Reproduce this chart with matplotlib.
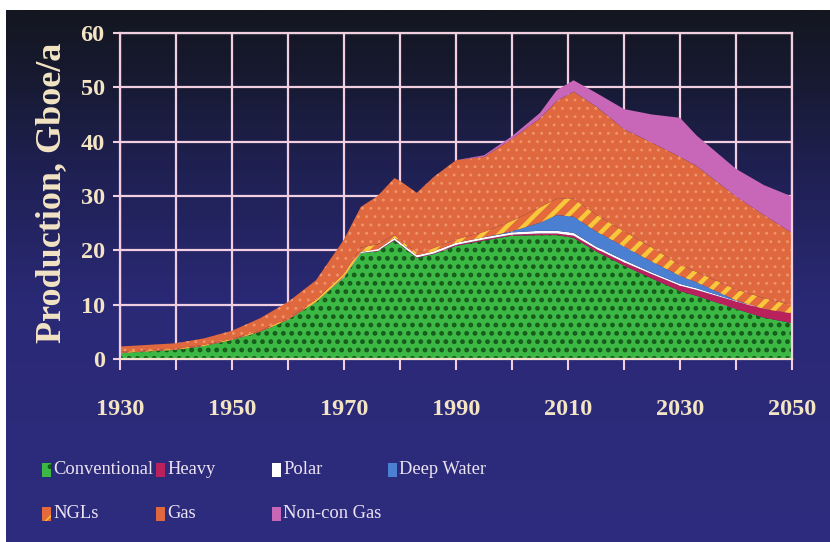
import numpy as np
import matplotlib.pyplot as plt
from matplotlib.colors import LinearSegmentedColormap
from matplotlib.patches import Rectangle

# Values (Gboe/a)
years = [1930, 1935, 1940, 1945, 1950, 1955, 1960, 1965, 1970, 1973, 1976, 1979, 1980, 1983,
         1986, 1990, 1995, 2000, 2005, 2008, 2011, 2015, 2020, 2025, 2030, 2033, 2040, 2045, 2050]
conventional = [1.1, 1.4, 1.7, 2.4, 3.5, 5.0, 7.2, 10.5, 15.0, 19.5, 19.8, 21.8, 21.0, 18.6,
                19.3, 20.8, 21.8, 22.7, 22.8, 22.8, 22.3, 19.8, 17.2, 14.8, 12.5, 11.6, 9.2, 7.6, 6.6]
heavy = [0, 0, 0, 0, 0, 0, 0, 0, 0, 0, 0.1, 0.1, 0.1, 0.1,
         0.1, 0.2, 0.2, 0.2, 0.3, 0.3, 0.4, 0.5, 0.6, 0.8, 1.0, 1.1, 1.4, 1.6, 1.8]
polar = [0, 0, 0, 0, 0, 0, 0, 0, 0.1, 0.2, 0.3, 0.4, 0.4, 0.4,
         0.4, 0.4, 0.4, 0.4, 0.5, 0.5, 0.5, 0.4, 0.4, 0.3, 0.3, 0.3, 0.1, 0, 0]
deep_water = [0, 0, 0, 0, 0, 0, 0, 0, 0, 0, 0, 0, 0, 0,
              0, 0, 0, 0.2, 1.5, 2.9, 3.0, 2.8, 2.5, 2.0, 1.5, 1.1, 0.1, 0, 0]
ngls = [0.2, 0.2, 0.2, 0.2, 0.2, 0.2, 0.3, 0.4, 0.6, 0.8, 0.9, 0.5, 0.5, 0.5,
        0.6, 0.6, 1.0, 1.9, 2.8, 3.0, 3.3, 3.1, 2.8, 2.6, 2.0, 1.9, 2.0, 2.0, 1.5]
gas = [1.0, 1.0, 1.0, 1.2, 1.5, 2.3, 3.0, 3.6, 6.3, 7.5, 8.9, 10.5, 10.8, 11.0,
       13.1, 14.6, 13.8, 15.1, 16.4, 18.0, 19.7, 19.9, 18.8, 19.3, 19.9, 19.5, 17.1, 15.3, 13.3]
non_con_gas = [0, 0, 0, 0, 0, 0, 0, 0, 0, 0, 0, 0, 0, 0,
               0, 0, 0.3, 0.5, 1.0, 2.0, 2.1, 2.5, 3.7, 5.2, 7.2, 5.6, 5.1, 5.5, 6.7]

labels = ["Conventional", "Heavy", "Polar", "Deep Water", "NGLs", "Gas", "Non-con Gas"]
series = [conventional, heavy, polar, deep_water, ngls, gas, non_con_gas]
face = ["#3cb944", "#b8215c", "#ffffff", "#4a7fd2", "#e46a3c", "#e0683e", "#c866b8"]
hatch = ["..", None, None, None, "//", "..", None]
hatch_col = ["#165a1c", None, None, None, "#f8c83a", "#f0946a", None]
hatch_lw = [2.2, 1, 1, 1, 3.2, 0.9, 1]
legend_hatch = [".", None, None, None, "/", None, None]

cream = "#f3e4c4"
pink = "#f2cfe0"
serif = "Liberation Serif"

fig = plt.figure(figsize=(8.3, 5.42), dpi=100, facecolor="white")

# gradient background
bg = fig.add_axes([6 / 830, 0, 1 - 6 / 830, 1 - 10 / 542])
bg.axis("off")
cmap = LinearSegmentedColormap.from_list(
    "bg", [(0, "#2e2c7e"), (0.45, "#2a2976"), (0.7, "#1f2052"), (0.88, "#171a30"), (1, "#141620")])
bg.imshow(np.linspace(0, 1, 256).reshape(-1, 1), aspect="auto", cmap=cmap,
          origin="lower", extent=[0, 1, 0, 1])

ax = fig.add_axes([120 / 830, 1 - 359 / 542, 672 / 830, 326 / 542])
ax.set_facecolor("none")

polys = ax.stackplot(years, *series, colors=face, linewidth=0)
for p, h, hc, hl in zip(polys, hatch, hatch_col, hatch_lw):
    if h:
        p.set_hatch(h)
        p.set_edgecolor(hc)
        p.set_linewidth(0)
        if hasattr(p, "set_hatch_linewidth"):
            p.set_hatch_linewidth(hl)

ax.set_xlim(1930, 2050)
ax.set_ylim(0, 60)
ax.set_axisbelow(True)
ax.grid(True, color=pink, linewidth=1.6)
for s in ax.spines.values():
    s.set_color(pink)
    s.set_linewidth(1.6)
ax.spines["bottom"].set_color("#f4e2cc")

xt = list(range(1930, 2051, 10))
ax.set_xticks(xt)
ax.set_xticklabels([str(y) if (y - 1930) % 20 == 0 else "" for y in xt])
ax.set_yticks(range(0, 61, 10))
ax.tick_params(axis="x", length=8, width=1.5, color=pink, pad=21, labelsize=17.5, labelcolor=cream)
ax.tick_params(axis="y", length=5, width=1.5, color=pink, pad=6, labelsize=17.5, labelcolor=cream)
for t in ax.get_xticklabels() + ax.get_yticklabels():
    t.set_fontfamily(serif)
    t.set_fontweight("bold")

fig.text(52 / 830, 1 - 193 / 542, "Production, Gboe/a", rotation=90, ha="center", va="center",
         fontsize=26, fontweight="bold", family=serif, color=cream)

# legend, laid out like the original (two rows, four columns)
leg_x = [42, 156, 272, 388, 42, 156, 272]
leg_y = [470, 470, 470, 470, 514, 514, 514]
for i in range(len(labels)):
    x0, yc = leg_x[i], leg_y[i]
    r = Rectangle((x0 / 830, 1 - (yc + 7) / 542), 9 / 830, 14 / 542, transform=fig.transFigure,
                  facecolor=face[i], edgecolor=hatch_col[i] or face[i], linewidth=0,
                  hatch=legend_hatch[i])
    fig.add_artist(r)
    fig.text((x0 + 11) / 830, 1 - yc / 542, labels[i], ha="left", va="center",
             fontsize=13.3, family=serif, color="#ece4f2")

fig.savefig("out.png", dpi=100, facecolor=fig.get_facecolor())
